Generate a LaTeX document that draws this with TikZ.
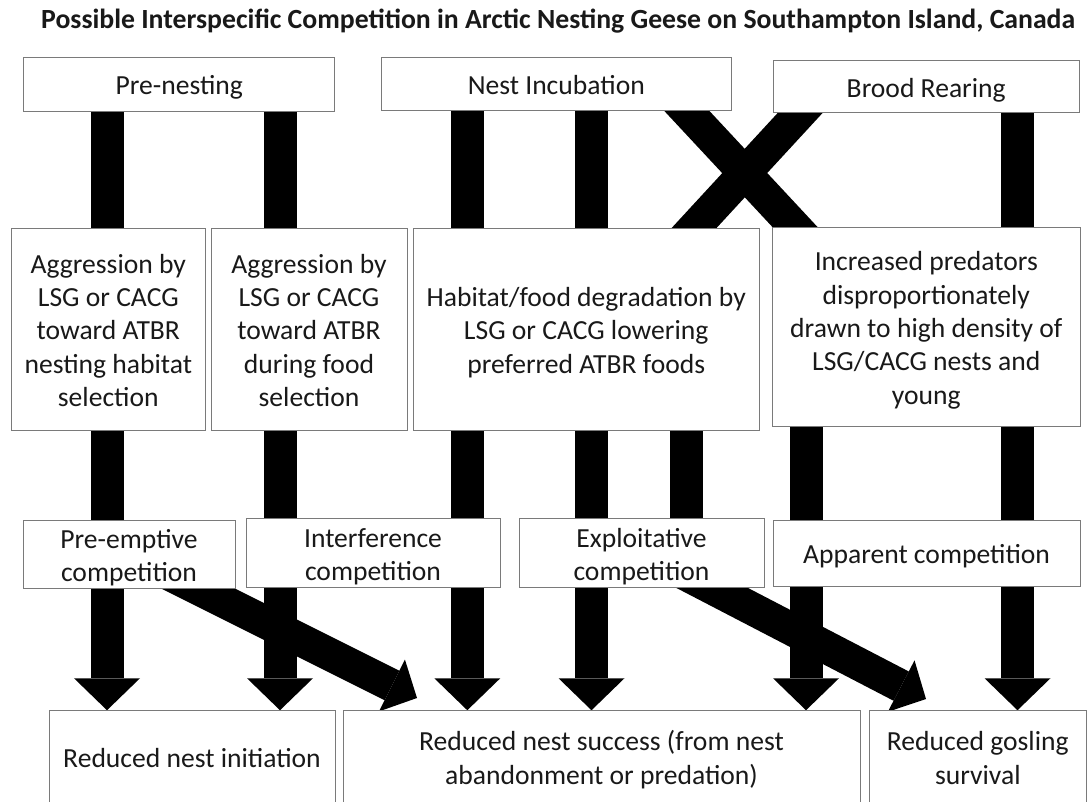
\documentclass[tikz,border=0pt]{standalone}
\usepackage{fontspec}
\setmainfont{Carlito}
\usepackage{graphicx}
\usetikzlibrary{arrows.meta,backgrounds}
\newcommand\myfirstrule{\rule{0pt}{28.5pt}}
\newcommand\mylastrule{\rule[-6.8pt]{0pt}{6.8pt}}
\begin{document}
\begin{tikzpicture}[x=1pt,y=-1pt,
  box/.style={draw=black!52, line width=0.9pt, fill=white, rectangle, inner sep=0pt,
    align=center, text=black!90, font=\fontsize{27.6}{33.3}\selectfont},
  shaft/.style={line width=33pt, draw=black},
  blockarrow/.style={shaft, -{Triangle[length=32pt,width=66pt,line width=0pt]}},
  diagarrow/.style={shaft, -{Triangle[length=28pt,width=58pt,line width=0pt]}}]
\useasboundingbox (0,0) rectangle (1090,801);

% title
\node[anchor=base west, inner sep=0pt, text=black!90] (title) at (41,28)
  {\resizebox{1034pt}{!}{\fontsize{23}{28}\selectfont\bfseries Possible Interspecific Competition in Arctic Nesting Geese on Southampton Island, Canada}};

% top row
\node[box, minimum width=311pt, minimum height=54pt] (pren) at (179.2,84) {\myfirstrule Pre-nesting\mylastrule};
\node[box, minimum width=350.5pt, minimum height=53.5pt] (inc) at (556.3,83.8) {\myfirstrule Nest Incubation\mylastrule};
\node[box, minimum width=306.3pt, minimum height=52.7pt] (brood) at (926.2,86.3) {\myfirstrule Brood Rearing\mylastrule};

% middle row
\node[box, minimum width=193.5pt, minimum height=202pt] (agg1) at (108.3,329)
  {\myfirstrule Aggression by\\LSG or CACG\\toward ATBR\\nesting habitat\\selection\mylastrule};
\node[box, minimum width=196pt, minimum height=202pt] (agg2) at (309,329)
  {\myfirstrule Aggression by\\LSG or CACG\\toward ATBR\\during food\\selection\mylastrule};
\node[box, minimum width=346.3pt, minimum height=202pt] (hab) at (586.2,329)
  {\myfirstrule Habitat/food degradation by\\LSG or CACG lowering\\preferred ATBR foods\mylastrule};
\node[box, minimum width=307.3pt, minimum height=198.7pt] (pred) at (926.3,326.7)
  {\myfirstrule Increased predators\\disproportionately\\drawn to high density of\\LSG/CACG nests and\\young\mylastrule};

% competition row
\node[box, minimum width=212pt, minimum height=63.3pt] (pre) at (129,554.3) {\myfirstrule Pre-emptive\\competition\mylastrule};
\node[box, minimum width=254pt, minimum height=66pt] (int) at (373,553) {\myfirstrule Interference\\competition\mylastrule};
\node[box, minimum width=245pt, minimum height=66pt] (exp) at (641.5,553) {\myfirstrule Exploitative\\competition\mylastrule};
\node[box, minimum width=307pt, minimum height=66pt] (app) at (926.5,553) {\myfirstrule Apparent competition\mylastrule};

% bottom row
\node[box, minimum width=286pt, minimum height=92pt] (ini) at (192,756.7) {\myfirstrule Reduced nest initiation\mylastrule};
\node[box, minimum width=517pt, minimum height=92pt] (succ) at (601.5,756.7)
  {\myfirstrule Reduced nest success (from nest\\abandonment or predation)\mylastrule};
\node[box, minimum width=217.5pt, minimum height=92pt] (gos) at (977.8,756.7)
  {\myfirstrule Reduced gosling\\survival\mylastrule};

% lanes and free ends
\coordinate (L1) at (107,0);
\coordinate (L2) at (280,0);
\coordinate (L3) at (467.3,0);
\coordinate (L4) at (591.5,0);
\coordinate (L5) at (686,0);
\coordinate (L6) at (806,0);
\coordinate (L7) at (1017.5,0);
\coordinate (a1) at (672,95);
\coordinate (a2) at (816.4,250);
\coordinate (b1) at (816.7,95);
\coordinate (b2) at (673.8,250);
\coordinate (p1) at (151,565);
\coordinate (p2) at (417,698);
\coordinate (e1) at (668,565);
\coordinate (e2) at (926,699);

\begin{pgfonlayer}{background}
\fill[white] (0,0) rectangle (1090,801);
\draw[blockarrow] (pren.south -| L1) -- (ini.north -| L1);
\draw[blockarrow] (pren.south -| L2) -- (ini.north -| L2);
\draw[blockarrow] (inc.south -| L3) -- (succ.north -| L3);
\draw[blockarrow] (inc.south -| L4) -- (succ.north -| L4);
\draw[shaft] (a1) -- (a2);
\draw[shaft] (b1) -- (b2);
\draw[shaft] (hab.south -| L5) -- (exp.north -| L5);
\draw[blockarrow] (pred.south -| L6) -- (succ.north -| L6);
\draw[blockarrow] (brood.south -| L7) -- (gos.north -| L7);
\draw[diagarrow] (p1) -- (p2);
\draw[diagarrow] (e1) -- (e2);
\end{pgfonlayer}
\end{tikzpicture}
\end{document}
